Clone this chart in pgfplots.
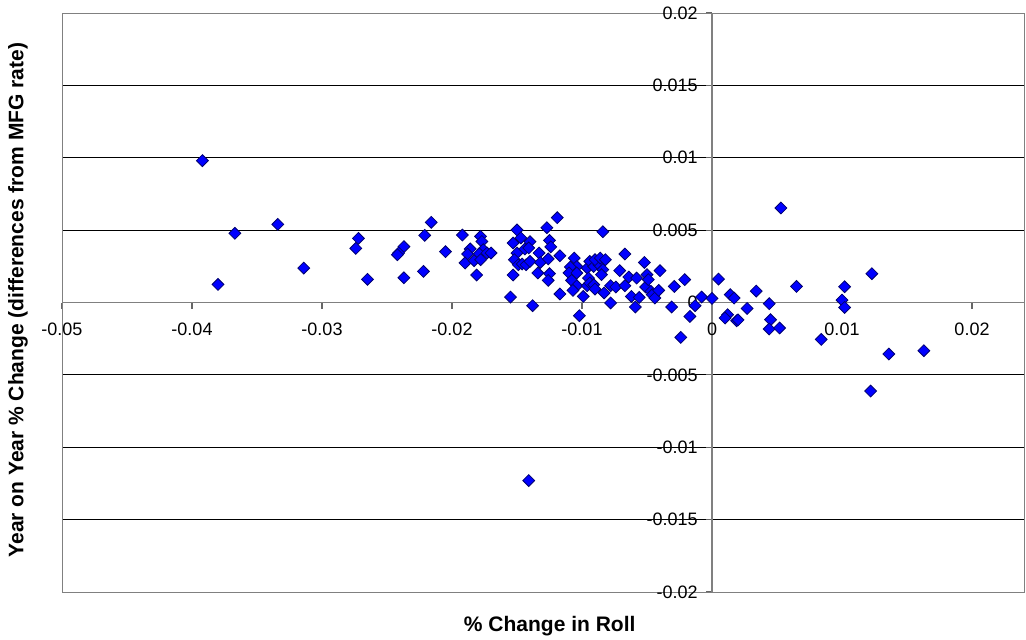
\documentclass[border=0pt]{standalone}
\usepackage{pgfplots}
\pgfplotsset{compat=1.18}
\usepackage{fontspec}
\setmainfont{Liberation Sans}
\definecolor{mkfill}{RGB}{0,0,255}
\definecolor{mkdraw}{RGB}{0,0,110}
\tikzset{
  xl/.style={font=\fontsize{9}{11}\selectfont, anchor=north, inner sep=0pt, yshift=-10pt},
  yl/.style={font=\fontsize{9}{11}\selectfont, anchor=east, inner sep=0pt, xshift=-7pt},
}
\begin{document}
\begin{tikzpicture}
\useasboundingbox (-31pt,-23.5pt) rectangle (482pt,296pt);
\begin{axis}[
  at={(0,0)}, anchor=south west,
  scale only axis, width=481pt, height=289.5pt,
  xmin=-0.05, xmax=0.024, ymin=-0.02, ymax=0.02,
  axis lines=middle,
  axis line style={-, draw=black!50, line width=0.9pt},
  xtick={-0.05,-0.04,-0.03,-0.02,-0.01,0,0.01,0.02},
  ytick={-0.02,-0.015,-0.01,-0.005,0,0.005,0.01,0.015,0.02},
  xticklabels={}, yticklabels={},
  scaled ticks=false,
  tick align=outside,
  major tick length=3pt,
  tick style={draw=black!60, line width=0.6pt},
  ymajorgrids=true,
  grid style={draw=black, line width=0.5pt},
  clip=false,
]
\draw[black!50, line width=0.5pt] (rel axis cs:0,0) rectangle (rel axis cs:1,1);
\addplot[only marks, mark=square*, mark size=2.1pt,
  mark options={rotate=45, fill=mkfill, draw=mkdraw, line width=0.4pt}]
coordinates {
(-0.0392,0.0098) (-0.0367,0.00478) (-0.0380,0.00125) (-0.0334,0.0054)
(-0.0314,0.00238) (-0.0272,0.00443) (-0.0274,0.00374) (-0.0265,0.0016)
(-0.0237,0.00386) (-0.0241,0.00342) (-0.0242,0.0033) (-0.0237,0.00171)
(-0.0221,0.00464) (-0.0216,0.00554) (-0.0222,0.00215) (-0.0205,0.00351)
(-0.0192,0.00466) (-0.0186,0.0037) (-0.0188,0.00335) (-0.0190,0.00273)
(-0.0183,0.00289) (-0.0181,0.0019) (-0.0178,0.00457) (-0.0177,0.00422)
(-0.0176,0.00365) (-0.0179,0.00337) (-0.0178,0.00296) (-0.0173,0.00342)
(-0.0170,0.00342) (-0.0150,0.00501) (-0.0147,0.00446) (-0.0153,0.00411)
(-0.0150,0.00342) (-0.0152,0.00296) (-0.0149,0.00261) (-0.0153,0.0019)
(-0.0146,0.00266) (-0.0143,0.00261) (-0.0144,0.0037) (-0.0140,0.0042)
(-0.0141,0.00377) (-0.0140,0.00284) (-0.0155,0.00038) (-0.0138,-0.00022)
(-0.0133,0.00342) (-0.0132,0.00277) (-0.0134,0.00204) (-0.0127,0.00517)
(-0.0125,0.00429) (-0.0124,0.00384) (-0.0126,0.00301) (-0.0125,0.00199)
(-0.0126,0.00153) (-0.0119,0.00586) (-0.0117,0.00323) (-0.0117,0.00059)
(-0.0106,0.00307) (-0.0104,0.00249) (-0.0109,0.00245) (-0.0110,0.00204)
(-0.0104,0.00204) (-0.0108,0.00153) (-0.0104,0.00116) (-0.0107,0.00084)
(-0.0099,0.00042) (-0.0102,-0.00091) (-0.0096,0.00238) (-0.0095,0.00169)
(-0.0096,0.00116) (-0.0084,0.00489) (-0.0094,0.00284) (-0.0091,0.00249)
(-0.0087,0.00261) (-0.0090,0.00296) (-0.0086,0.00307) (-0.0082,0.00296)
(-0.0084,0.00227) (-0.0085,0.00192) (-0.0094,0.00135) (-0.0091,0.00123)
(-0.0090,0.00093) (-0.0083,0.00066) (-0.0078,-0.00003) (-0.0078,0.00116)
(-0.0074,0.00107) (-0.0071,0.0022) (-0.0067,0.00335) (-0.0067,0.00116)
(-0.0064,0.00176) (-0.0062,0.00042) (-0.0059,-0.00031) (-0.0058,0.00169)
(-0.0056,0.00035) (-0.0052,0.00277) (-0.0051,0.00107) (-0.0050,0.00192)
(-0.0049,0.00158) (-0.0047,0.00077) (-0.0046,0.00054) (-0.0044,0.00031)
(-0.0041,0.00084) (-0.0040,0.0022) (-0.0031,-0.00031) (-0.0029,0.00111)
(-0.0021,0.00158) (-0.0024,-0.00241) (-0.0017,-0.00096) (-0.0013,-0.00022)
(-0.0008,0.00038) (0.0000,0.00028) (0.0005,0.00162) (0.0012,-0.00084)
(0.0010,-0.00107) (0.0014,0.00054) (0.0017,0.00031) (0.0019,-0.00126)
(0.0020,-0.0012) (0.0027,-0.00041) (0.0034,0.00079) (0.0044,-0.00008)
(0.0045,-0.00119) (0.0044,-0.00183) (0.0052,-0.00176) (0.0053,0.00653)
(0.0065,0.00111) (0.0084,-0.00255) (0.0102,0.00109) (0.0100,0.00017)
(0.0102,-0.00034) (0.0123,0.00199) (0.0136,-0.00356) (0.0163,-0.00333)
(0.0122,-0.00612) (-0.0141,-0.0123)
};
\node[xl] at (axis cs:-0.05,0) {-0.05};
\node[xl] at (axis cs:-0.04,0) {-0.04};
\node[xl] at (axis cs:-0.03,0) {-0.03};
\node[xl] at (axis cs:-0.02,0) {-0.02};
\node[xl] at (axis cs:-0.01,0) {-0.01};
\node[xl] at (axis cs:0,0) {0};
\node[xl] at (axis cs:0.01,0) {0.01};
\node[xl] at (axis cs:0.02,0) {0.02};
\node[yl] at (axis cs:0,0.02) {0.02};
\node[yl] at (axis cs:0,0.015) {0.015};
\node[yl] at (axis cs:0,0.01) {0.01};
\node[yl] at (axis cs:0,0.005) {0.005};
\node[yl] at (axis cs:0,0) {0};
\node[yl] at (axis cs:0,-0.005) {-0.005};
\node[yl] at (axis cs:0,-0.01) {-0.01};
\node[yl] at (axis cs:0,-0.015) {-0.015};
\node[yl] at (axis cs:0,-0.02) {-0.02};
\node[font=\fontsize{10.5}{12}\selectfont\bfseries, rotate=90, anchor=center]
  at ([xshift=-22pt]rel axis cs:0,0.504) {Year on Year \% Change (differences from MFG rate)};
\node[font=\fontsize{10.5}{12}\selectfont\bfseries, anchor=center]
  at ([yshift=-17pt]rel axis cs:0.507,0) {\% Change in Roll};
\end{axis}
\end{tikzpicture}
\end{document}
